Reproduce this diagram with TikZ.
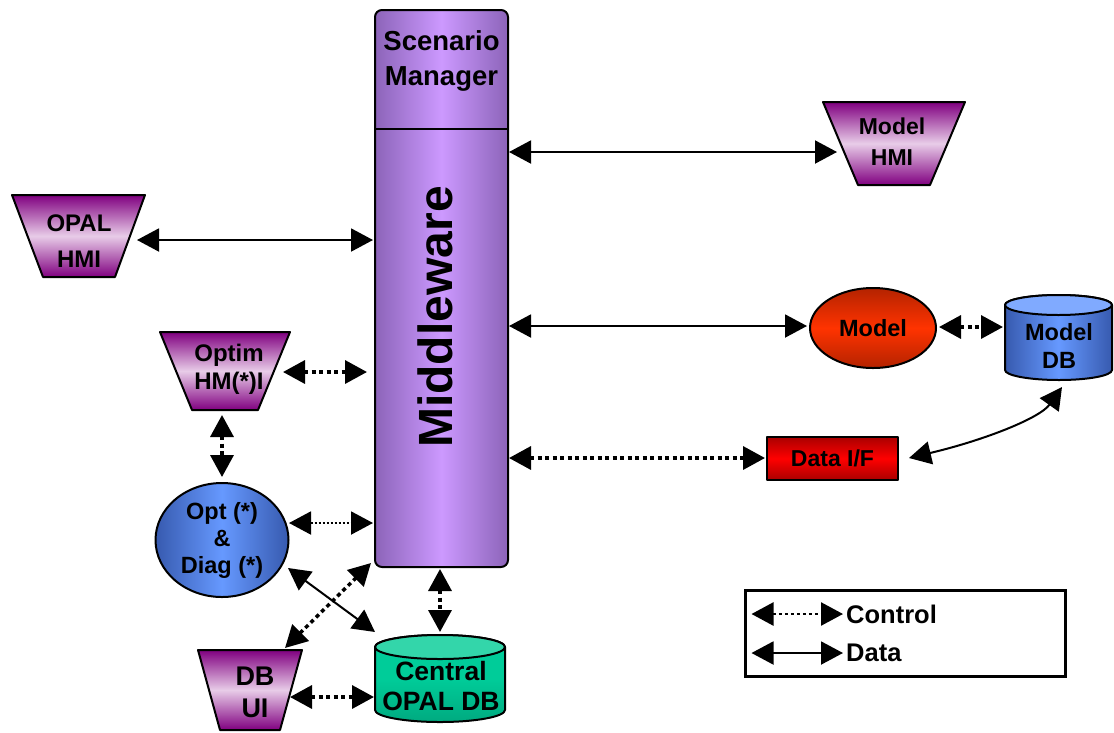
\documentclass[tikz,border=0pt]{standalone}
\usepackage{fontspec}
\setmainfont{Liberation Sans}
\usetikzlibrary{arrows.meta,calc,shapes.geometric}
\definecolor{mwdark}{RGB}{140,100,185}
\definecolor{mwlight}{RGB}{204,153,255}
\definecolor{trdark}{RGB}{128,0,128}
\definecolor{trlight}{RGB}{232,204,232}
\definecolor{bdark}{RGB}{55,90,175}
\definecolor{blight}{RGB}{102,153,255}
\definecolor{btop}{RGB}{128,170,255}
\definecolor{rdark}{RGB}{180,35,0}
\definecolor{rlight}{RGB}{255,51,0}
\definecolor{ddark}{RGB}{170,0,0}
\definecolor{dlight}{RGB}{255,0,0}
\definecolor{gbody}{RGB}{0,204,153}
\definecolor{gdark}{RGB}{0,170,128}
\definecolor{gtop}{RGB}{51,214,170}
\begin{document}
\begin{tikzpicture}[x=1pt,y=-1pt,
  outl/.style={draw=black,line width=2pt,line join=round},
  trap/.style={outl,top color=trdark,bottom color=trdark,middle color=trlight},
  lbl/.style={align=center,inner sep=0pt},
  fs/.style n args={2}{font=\bfseries\fontsize{#1}{#2}\selectfont},
  >={Triangle[length=22pt,width=23pt]},
  datal/.style={<->,line width=2pt},
  ctrll/.style={<->,line width=3.5pt,dash pattern=on 4pt off 3.5pt},
  ctrlthin/.style={<->,line width=2pt,dash pattern=on 2pt off 2pt},
  ctrlleg/.style={<->,line width=2.5pt,dash pattern=on 3pt off 3pt},
]
\fill[white] (0,0) rectangle (1114,732);
\useasboundingbox (0,0) rectangle (1114,732);

% Middleware column
\node[outl, rounded corners=7pt, left color=mwdark, right color=mwdark, middle color=mwlight,
      minimum width=133, minimum height=557, inner sep=0] (mw) at (441.5,288.5) {};
\draw[line width=2pt] ($(mw.north west)+(0,120)$) -- ($(mw.north east)+(0,120)$);
\node[lbl, fs={27.5}{35}] (sm) at (441.5,60.5) {Scenario\\Manager};
\node[lbl, fs={48}{56}, rotate=90] (mwlbl) at (435,317) {Middleware};

% HMI trapezia
\draw[trap] (823,102) -- (965,102) -- (930,185) -- (858,185) -- cycle;
\node[lbl, fs={23}{31}] (mhmi) at (892,142) {Model\\HMI};

\draw[trap] (12,195) -- (145,195) -- (115,277) -- (43,277) -- cycle;
\node[lbl, fs={24}{36}] (ohmi) at (79,241.5) {OPAL\\HMI};

\draw[trap] (160,332) -- (290,332) -- (258,410) -- (192,410) -- cycle;
\node[lbl, fs={24}{28}] (optim) at (229,369) {Optim\\HM(*)I};

\draw[trap] (198,650) -- (302,650) -- (280,730) -- (220,730) -- cycle;
\node[lbl, fs={27}{32}] (dbui) at (255,692) {DB\\UI};

% Opt & Diag
\node[ellipse, outl, left color=bdark, right color=bdark, middle color=blight,
      minimum width=133, minimum height=114, lbl, fs={23.5}{27}] (opt) at (222,540) {Opt (*)\\\&\\Diag (*)};

% Model
\node[ellipse, outl, top color=rdark, bottom color=rdark, middle color=rlight,
      minimum width=126, minimum height=80, lbl, fs={23.5}{28}] (model) at (873,328) {Model};

% Data I/F
\node[rectangle, outl, top color=ddark, bottom color=ddark, middle color=dlight,
      minimum width=131, minimum height=43, lbl, fs={23}{28}] (dataif) at (832.5,458.5) {Data I/F};

% Model DB cylinder
\draw[outl, left color=bdark, right color=bdark, middle color=blight]
  (1005,305) -- (1005,370) .. controls (1005,375.5) and (1029.2,380) .. (1059,380)
  .. controls (1088.8,380) and (1112,375.5) .. (1112,370) -- (1112,305)
  .. controls (1112,299.5) and (1088.8,295) .. (1059,295)
  .. controls (1029.2,295) and (1005,299.5) .. (1005,305) -- cycle;
\draw[outl, fill=btop] (1058.5,305) ellipse [x radius=53.5, y radius=10];
\node[lbl, fs={23.5}{28}] (mdb) at (1059,345.5) {Model\\DB};

% Central OPAL DB cylinder
\draw[outl, top color=gbody, bottom color=gdark, middle color=gbody]
  (375,647) -- (375,710) .. controls (375,716.6) and (404.1,722) .. (440,722)
  .. controls (475.9,722) and (505,716.6) .. (505,710) -- (505,647)
  .. controls (505,640.4) and (475.9,635) .. (440,635)
  .. controls (404.1,635) and (375,640.4) .. (375,647) -- cycle;
\draw[outl, fill=gtop] (440,647) ellipse [x radius=65, y radius=12];
\node[lbl, fs={26.5}{30}] (cdb) at (441,686) {Central\\OPAL DB};

% Legend
\node[draw, line width=3pt, minimum width=320, minimum height=86, inner sep=0] (legend) at (905,633.5) {};
\node[lbl, fs={25.5}{30}, anchor=west] (lc) at (846,614) {Control};
\node[lbl, fs={25.5}{30}, anchor=west] (ld) at (846,653) {Data};
\draw[ctrlleg] ($(legend.west)+(8,-19.5)$) -- ($(lc.west)+(-3,0)$);
\draw[datal] ($(legend.west)+(8,19.5)$) -- ($(ld.west)+(-3,0)$);

% Connectors
\draw[datal] ($(mw.east)+(0,-136.5)$) -- ($(mhmi)+(-55,10)$);
\draw[datal] ($(ohmi)+(58,-1.5)$) -- ($(mw.west)+(-1,-48.5)$);
\draw[datal] ($(mw.east)+(0,37.5)$) -- ($(model.west)+(-2,-2)$);
\draw[ctrll] ($(model.east)+(2,-1)$) -- ($(mdb)+(-56,-18.5)$);
\draw[datal] ($(dataif.east)+(10,-0.5)$) .. controls (985,440) and (1040,418) .. ($(mdb)+(3,41.5)$);
\draw[ctrll] ($(mw.east)+(0,169.5)$) -- ($(dataif.west)+(-1,-0.5)$);
\draw[ctrll] ($(optim)+(54,3)$) -- ($(mw.west)+(-7,83.5)$);
\draw[ctrll] ($(optim)+(-7,46)$) -- ($(opt.north)+(0,-5)$);
\draw[ctrlthin] ($(opt.east)+(-0.5,-17)$) -- ($(mw.west)+(-1,234.5)$);
\draw[datal] ($(opt)+(66,28)$) -- ($(cdb)+(-66,-54)$);
\draw[ctrll] ($(dbui)+(30,-44)$) -- ($(mw.south west)+(-3,-5)$);
\draw[ctrll] ($(mw.south)+(-1.5,1)$) -- ($(cdb)+(-1,-54)$);
\draw[ctrll] ($(dbui)+(35,5)$) -- ($(cdb)+(-67,11)$);
\end{tikzpicture}
\end{document}
